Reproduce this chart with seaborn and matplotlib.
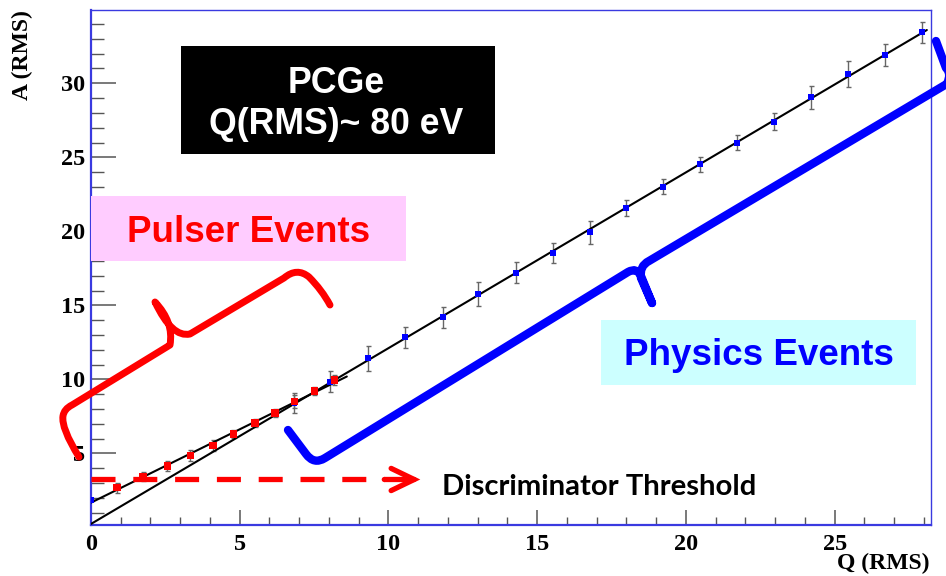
import numpy as np
import pandas as pd
import matplotlib
matplotlib.use("Agg")
import matplotlib.pyplot as plt
from matplotlib.patches import Rectangle, PathPatch
from matplotlib.path import Path
from matplotlib.ticker import MultipleLocator
import seaborn as sns

# ---- data -------------------------------------------------------------
# Pulser calibration events
pulser_q = [0.87, 1.75, 2.57, 3.34, 4.10, 4.79, 5.51, 6.19, 6.84, 7.51, 8.18]
pulser_a = [2.68, 3.42, 4.14, 4.86, 5.54, 6.32, 7.05, 7.74, 8.51, 9.21, 9.97]
pulser_err = [0.34, 0.30, 0.34, 0.40, 0.36, 0.28, 0.25, 0.28, 0.45, 0.28, 0.32]

# Physics events (first entry is the pedestal at Q = 0)
physics_q = [0.0, 6.84, 8.04, 9.31, 10.56, 11.82, 13.02, 14.28, 15.52, 16.77,
             18.00, 19.24, 20.47, 21.73, 22.96, 24.20, 25.44, 26.69, 27.93]
physics_a = [1.84, 8.38, 9.84, 11.42, 12.84, 14.19, 15.74, 17.20, 18.55, 19.93,
             21.59, 23.01, 24.53, 25.99, 27.41, 29.05, 30.63, 31.91, 33.45]
physics_err = [0.05, 0.68, 0.70, 0.85, 0.70, 0.70, 0.81, 0.70, 0.68, 0.77,
               0.56, 0.52, 0.50, 0.50, 0.56, 0.79, 0.90, 0.75, 0.70]

threshold_a = 3.24          # discriminator threshold in A (RMS)
threshold_end_q = 11.07     # where the threshold arrow points
pulser_fit_range = (0.0, 8.6)
physics_fit_range = (0.0, 28.1)

x_ticks = [0, 5, 10, 15, 20, 25]
y_ticks = [5, 10, 15, 20, 25, 30]

# ---- style ------------------------------------------------------------
sns.set_theme(style="white")
plt.rcParams["font.family"] = ["Liberation Serif", "DejaVu Serif"]
plt.rcParams["font.weight"] = "bold"

W, H = 946, 576
fig = plt.figure(figsize=(W / 100, H / 100), dpi=100, facecolor="white")
ax = fig.add_axes([91 / W, 1 - 524.5 / H, (931 - 91) / W, (524.5 - 10) / H])
ax.set_facecolor("white")


def fxy(x, y):
    """pixel position (from top-left) -> figure fraction"""
    return (x / W, 1 - y / H)


# ---- fits -------------------------------------------------------------
pul_fit_q = np.concatenate([[physics_q[0]], pulser_q])
pul_fit_a = np.concatenate([[physics_a[0]], pulser_a])
p_pul = np.polyfit(pul_fit_q, pul_fit_a, 1)
p_phy = np.polyfit(physics_q[1:], physics_a[1:], 1)

fit_pul = pd.DataFrame({"q": np.linspace(*pulser_fit_range, 50)})
fit_pul["a"] = np.polyval(p_pul, fit_pul["q"])
fit_phy = pd.DataFrame({"q": np.linspace(*physics_fit_range, 50)})
fit_phy["a"] = np.polyval(p_phy, fit_phy["q"])

sns.lineplot(data=fit_phy, x="q", y="a", color="black", lw=1.5, ax=ax, zorder=3)
sns.lineplot(data=fit_pul, x="q", y="a", color="black", lw=1.5, ax=ax, zorder=3)

# ---- points with error bars ------------------------------------------
ax.errorbar(physics_q, physics_a, yerr=physics_err, fmt="none", ecolor="#666666",
            elinewidth=1.0, capsize=1.8, capthick=1.0, zorder=2)
ax.errorbar(pulser_q, pulser_a, yerr=pulser_err, fmt="none", ecolor="#666666",
            elinewidth=1.0, capsize=1.8, capthick=1.0, zorder=2)
sns.scatterplot(x=physics_q, y=physics_a, marker="s", color="#0000ff", s=18,
                edgecolor="none", ax=ax, zorder=4)
sns.scatterplot(x=pulser_q, y=pulser_a, marker="s", color="#ff0000", s=28,
                edgecolor="none", ax=ax, zorder=4)

# ---- axes -------------------------------------------------------------
ax.set_xlim(0, 28.24)
ax.set_ylim(0.2, 34.95)
ax.set_xticks(x_ticks)
ax.set_yticks(y_ticks)
ax.xaxis.set_minor_locator(MultipleLocator(1))
ax.yaxis.set_minor_locator(MultipleLocator(1))
ax.set_xlabel("")
ax.set_ylabel("")
ax.tick_params(axis="y", which="major", direction="in", length=18, width=1.1,
               color="#555555", pad=4.5, labelsize=17.5, left=True, right=False)
ax.tick_params(axis="y", which="minor", direction="in", length=9, width=1.0,
               color="#555555", left=True, right=False)
ax.tick_params(axis="x", which="major", direction="in", length=11, width=1.1,
               color="#555555", pad=6.5, labelsize=17.5, bottom=True, top=False)
ax.tick_params(axis="x", which="minor", direction="in", length=5.8, width=1.0,
               color="#555555", bottom=True, top=False)
for lab in ax.get_xticklabels() + ax.get_yticklabels():
    lab.set_fontweight("bold")
    lab.set_color("black")
for name, sp in ax.spines.items():
    sp.set_color("#3a3ae0")
    sp.set_linewidth(1.6 if name in ("left", "bottom") else 1.0)

fig.text(*fxy(22, 10), "A (RMS)", rotation=90, ha="center", va="top",
         fontsize=17, family="Liberation Serif", weight="bold", color="black")
fig.text(*fxy(929, 569), "Q (RMS)", ha="right", va="baseline",
         fontsize=17, family="Liberation Serif", weight="bold", color="black")

# ---- threshold arrow --------------------------------------------------
dash_end_q = threshold_end_q - 1.21
ax.plot([0, dash_end_q], [threshold_a, threshold_a], color="#ff0000", lw=3.8,
        ls=(0, (4.55, 3.37)), dash_capstyle="butt", clip_on=False, zorder=7)
ax.annotate("", xy=(threshold_end_q, threshold_a), xytext=(dash_end_q, threshold_a),
            arrowprops=dict(arrowstyle="->,head_length=0.83,head_width=0.4",
                            color="#ff0000", lw=3.8, shrinkA=0, shrinkB=0,
                            mutation_scale=20, capstyle="round", joinstyle="miter"),
            annotation_clip=False, zorder=7)

# ---- label boxes ------------------------------------------------------
def add_box(x0, y0, x1, y1, color):
    rect = Rectangle(fxy(x0, y1), (x1 - x0) / W, (y1 - y0) / H,
                     transform=fig.transFigure, facecolor=color,
                     edgecolor="none", zorder=5)
    fig.add_artist(rect)


add_box(181, 46, 495, 154, "black")
add_box(91, 196, 405.7, 260.7, "#ffccff")
add_box(601, 320, 915.7, 385, "#ccffff")

sans = ["Liberation Sans", "DejaVu Sans"]
fig.text(*fxy(336, 93.3), "PCGe", ha="center", va="baseline", fontsize=25.7,
         family=sans, weight="bold", color="white", zorder=6)
fig.text(*fxy(336, 134), "Q(RMS)~ 80 eV", ha="center", va="baseline", fontsize=25.7,
         family=sans, weight="bold", color="white", zorder=6)
fig.text(*fxy(248.3, 241.7), "Pulser Events", ha="center", va="baseline",
         fontsize=26.5, family=sans, weight="bold", color="#ff0000", zorder=6)
fig.text(*fxy(758.7, 365), "Physics Events", ha="center", va="baseline",
         fontsize=26.5, family=sans, weight="bold", color="#0000ff", zorder=6)

disc = fig.text(*fxy(441.7, 495), "Discriminator Threshold", ha="left",
                va="baseline", fontsize=16, family=["Lato", "DejaVu Sans"],
                weight="bold", color="black", zorder=6)
fig.canvas.draw()
bb = disc.get_window_extent()
disc.set_fontsize(16 * (757.3 - 441.7) / bb.width)

# ---- curly braces -----------------------------------------------------
M, L, Q = Path.MOVETO, Path.LINETO, Path.CURVE3


def add_brace(segments, color, lw):
    verts, codes = [], []
    for code, pts in segments:
        for p in pts:
            verts.append(fxy(*p))
            codes.append(code)
    patch = PathPatch(Path(verts, codes), facecolor="none", edgecolor=color,
                      lw=lw, capstyle="round", joinstyle="round",
                      transform=fig.transFigure, zorder=6, clip_on=False)
    fig.add_artist(patch)


red_brace = [
    (M, [(79, 457)]),
    (Q, [(61, 428), (63, 416)]),
    (Q, [(64, 409), (72, 405)]),
    (L, [(170, 345)]),
    (Q, [(174, 322), (155, 302)]),
    (Q, [(172, 338), (190, 334)]),
    (L, [(284, 278)]),
    (Q, [(297, 267), (309, 277)]),
    (Q, [(322, 290), (330, 305)]),
]
add_brace(red_brace, "#ff0000", 5)

blue_brace = [
    (M, [(288, 430)]),
    (L, [(306, 454)]),
    (Q, [(314, 465), (325, 458)]),
    (L, [(628, 272)]),
    (Q, [(637, 267), (641, 276)]),
    (L, [(652, 303)]),
    (M, [(652, 303)]),
    (L, [(641, 278)]),
    (Q, [(639, 266), (649, 261)]),
    (L, [(950, 82)]),
    (Q, [(952, 73), (946, 68)]),
    (L, [(936, 41)]),
]
add_brace(blue_brace, "#0000ff", 6)

fig.savefig("out.png", dpi=100, facecolor="white")
